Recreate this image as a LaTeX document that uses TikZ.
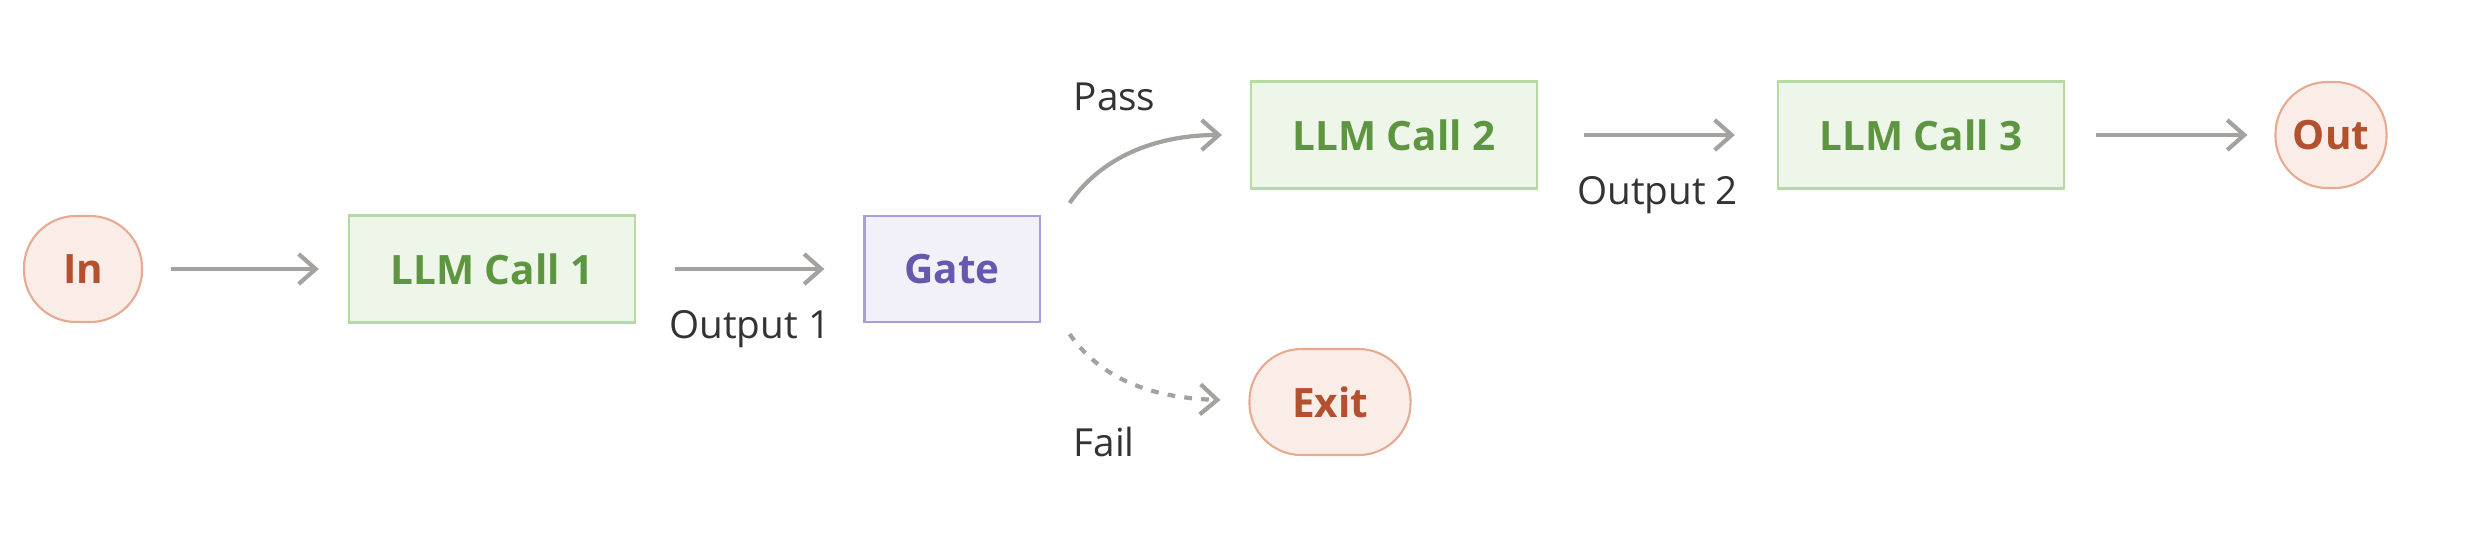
\documentclass[tikz,border=0pt]{standalone}
\usepackage{fontspec}
\setmainfont{Open Sans}
\usetikzlibrary{arrows.meta}

\definecolor{termfill}{HTML}{FAEDE8}
\definecolor{termline}{HTML}{E8A991}
\definecolor{termtext}{HTML}{B3512E}
\definecolor{callfill}{HTML}{EEF5E9}
\definecolor{callline}{HTML}{B6DBA2}
\definecolor{calltext}{HTML}{5E9541}
\definecolor{gatefill}{HTML}{F2F1FA}
\definecolor{gateline}{HTML}{A79FDD}
\definecolor{gatetext}{HTML}{6558AE}
\definecolor{flowgray}{HTML}{A3A29E}
\definecolor{lbltext}{HTML}{333333}

\begin{document}
\begin{tikzpicture}[x=0.01cm,y=-0.01cm,
  every node/.style={font=\fontsize{11}{13}\selectfont},
  term/.style={draw=termline,fill=termfill,text=termtext,line width=0.6pt,
    rounded corners=0.52cm,minimum height=1.06cm,inner sep=0pt,
    font=\fontsize{11.5}{13}\selectfont\bfseries},
  call/.style={draw=callline,fill=callfill,text=calltext,line width=0.6pt,
    minimum width=2.86cm,minimum height=1.07cm,inner sep=0pt,
    font=\fontsize{11.5}{13}\selectfont\bfseries},
  gatebox/.style={draw=gateline,fill=gatefill,text=gatetext,line width=0.6pt,
    minimum width=1.75cm,minimum height=1.06cm,inner sep=0pt,
    font=\fontsize{11.5}{13}\selectfont\bfseries},
  flow/.style={draw=flowgray,line width=1.2pt,
    -{Straight Barb[length=0.17cm,width=0.3cm,line width=1.2pt]}},
  lbl/.style={text=lbltext,inner sep=0pt}]
\useasboundingbox (0,0) rectangle (2466,532);

% nodes
\node[term,minimum width=1.18cm] (input) at (83,269) {In};
\node[call] (call1) at (492,269) {LLM Call 1};
\node[gatebox] (gate) at (952,269) {Gate};
\node[call] (call2) at (1394,135) {LLM Call 2};
\node[call] (call3) at (1921,135) {LLM Call 3};
\node[term,minimum width=1.11cm] (output) at (2331,135) {Out};
\node[term,minimum width=1.61cm] (exit) at (1330,402) {Exit};

% straight connectors
\draw[flow,shorten <=0.28cm,shorten >=0.29cm] (input) -- (call1);
\draw[flow,shorten <=0.39cm,shorten >=0.39cm] (call1) -- (gate)
  node[lbl,midway,yshift=-0.6cm] {Output 1};
\draw[flow,shorten <=0.46cm,shorten >=0.42cm] (call2) -- (call3)
  node[lbl,midway,yshift=-0.6cm] {Output 2};
\draw[flow,shorten <=0.31cm,shorten >=0.27cm] (call3) -- (output);

% gate branches
\draw[flow] ([shift={(29,-12)}]gate.north east)
  .. controls +(35,-50) and +(-60,0) .. ([shift={(-28,0)}]call2.west);
\draw[flow,dash pattern=on 2.2pt off 2.6pt] ([shift={(29,11)}]gate.south east)
  .. controls +(35,50) and +(-60,-2) .. ([shift={(-28,-2)}]exit.west);
\node[lbl,anchor=west] (passlbl) at (1073,97) {Pass};
\node[lbl,anchor=west] (faillbl) at (1073,442) {Fail};
\end{tikzpicture}
\end{document}
